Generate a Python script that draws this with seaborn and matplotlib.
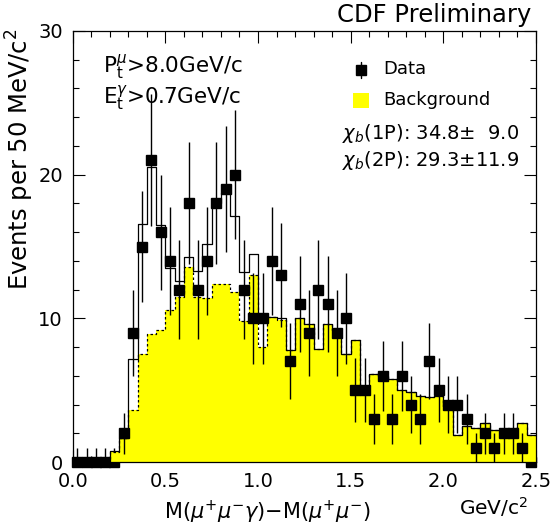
import numpy as np
import pandas as pd
import matplotlib.pyplot as plt
import matplotlib.patches as mpatches
from matplotlib.lines import Line2D
from matplotlib.ticker import MultipleLocator, FormatStrFormatter
import seaborn as sns

# 50 MeV/c^2 bins between 0 and 2.5 GeV/c^2
bin_edges = list(np.linspace(0.0, 2.5, 51))
bin_centers = [0.025 + 0.05 * i for i in range(50)]

# events per bin
data_counts = [0, 0, 0, 0, 0, 2, 9, 15, 21, 16,
               14, 12, 18, 12, 14, 18, 19, 20, 12, 10,
               10, 14, 13, 7, 11, 9, 12, 11, 9, 10,
               5, 5, 3, 6, 3, 6, 4, 3, 7, 5,
               4, 4, 3, 1, 2, 1, 2, 2, 1, 0]

# yellow background histogram
background = [0, 0, 0, 0, 0.7, 1.7, 3.6, 7.5, 8.9, 9.2,
              10.6, 11.5, 13.6, 11.5, 11.4, 12.4, 12.4, 11.8, 9.8, 13.0,
              8.0, 10.1, 9.9, 7.8, 10.0, 9.6, 7.9, 9.6, 9.2, 7.5,
              8.5, 4.8, 6.1, 6.0, 5.8, 5.0, 4.9, 4.6, 4.5, 4.6,
              3.9, 1.9, 2.5, 2.4, 2.7, 2.2, 2.15, 2.2, 2.7, 1.9]

# background + chi_b signal (solid outline)
fit_total = [0, 0, 0, 0, 0.8, 1.7, 7.2, 16.6, 20.5, 16.5,
             13.5, 12.6, 14.3, 13.3, 15.2, 18.0, 18.7, 17.1, 13.2, 14.5,
             10.2, 10.1, 10.0, 7.8, 10.0, 9.6, 7.9, 9.6, 9.2, 7.5,
             8.5, 4.8, 6.1, 6.0, 5.8, 5.0, 4.9, 4.6, 4.5, 4.6,
             3.9, 1.9, 2.5, 2.4, 2.7, 2.2, 2.15, 2.2, 2.7, 1.9]

x_ticks = [0.0, 0.5, 1.0, 1.5, 2.0, 2.5]
y_ticks = [0, 10, 20, 30]

chi1p_label = r"$\chi_b$(1P): 34.8$\pm$  9.0"
chi2p_label = r"$\chi_b$(2P): 29.3$\pm$11.9"

df = pd.DataFrame({"mass": bin_centers, "data": data_counts,
                   "bkg": background, "total": fit_total})

sns.set_style("ticks")
plt.rcParams["font.family"] = ["DejaVu Sans"]
plt.rcParams["text.color"] = "black"
plt.rcParams["axes.labelcolor"] = "black"
plt.rcParams["xtick.color"] = "black"
plt.rcParams["ytick.color"] = "black"
plt.rcParams["xtick.direction"] = "in"
plt.rcParams["ytick.direction"] = "in"

W, H = 554, 525
def fx(px):
    return px / W
def fy(py):
    return 1 - py / H

fig = plt.figure(figsize=(5.54, 5.25), dpi=100)
ax = fig.add_axes([fx(72.7), fy(462), (536 - 72.7) / W, (462 - 31) / H])

# zero bins go under the yellow fill (they sit on the axis)
n = df["data"].to_numpy(dtype=float)
xm = df["mass"].to_numpy()
err_lo = np.sqrt(n)
err_hi = np.where(n > 0, np.sqrt(n), 1.0)
zero = n == 0
ax.errorbar(xm[zero], n[zero], yerr=[err_lo[zero], err_hi[zero]],
            fmt="s", color="black", ms=7, elinewidth=1, capsize=0,
            clip_on=False, zorder=0.8)

sns.histplot(data=df, x="mass", weights="bkg", bins=bin_edges, element="step",
             fill=True, color="#ffff00", alpha=1, linewidth=0, ax=ax, zorder=1)
sns.histplot(data=df, x="mass", weights="total", bins=bin_edges, element="step",
             fill=False, color="black", linewidth=0.9, ax=ax, zorder=2)
sns.histplot(data=df, x="mass", weights="bkg", bins=bin_edges, element="step",
             fill=False, color="black", linewidth=0.9, linestyle=(0, (2, 2)),
             ax=ax, zorder=2.1)

ax.errorbar(xm[~zero], n[~zero], yerr=[err_lo[~zero], err_hi[~zero]],
            fmt="s", color="black", ms=7, elinewidth=1, capsize=0, zorder=3)

ax.set_xlim(0, 2.5)
ax.set_ylim(0, 30)
ax.set_xlabel("")
ax.set_ylabel("")
ax.set_xticks(x_ticks)
ax.set_yticks(y_ticks)
ax.xaxis.set_major_formatter(FormatStrFormatter("%.1f"))
ax.xaxis.set_minor_locator(MultipleLocator(0.1))
ax.yaxis.set_minor_locator(MultipleLocator(2))
ax.tick_params(which="both", top=True, right=True, width=0.8, colors="black",
               labelsize=14)
ax.tick_params(which="major", length=8.5)
ax.tick_params(which="minor", length=4)
ax.tick_params(axis="x", pad=7)
ax.tick_params(axis="y", pad=7)
for sp in ax.spines.values():
    sp.set_linewidth(0.9)
    sp.set_color("black")

# texts
fig.text(fx(531), fy(15), "CDF Preliminary", ha="right", va="center", fontsize=17.5)
fig.text(fx(103), fy(67), r"P$_{\rm t}^{\mu}$>8.0GeV/c", va="center", fontsize=15.5)
fig.text(fx(103), fy(98), r"E$_{\rm t}^{\gamma}$>0.7GeV/c", va="center", fontsize=15.5)
fig.text(fx(20), fy(28), r"Events per 50 MeV/c$^2$", rotation=90,
         ha="center", va="top", fontsize=17.5)
fig.text(fx(268), fy(512), r"M($\mu^{+}\mu^{-}\gamma$)−M($\mu^{+}\mu^{-}$)",
         ha="center", va="center", fontsize=15)
fig.text(fx(528), fy(507), r"GeV/c$^2$", ha="right", va="center", fontsize=14.5)

# hand-made legend
fig.add_artist(Line2D([fx(361), fx(361)], [fy(61.7), fy(78.3)], color="black", lw=1))
fig.add_artist(Line2D([fx(361)], [fy(69.5)], marker="s", ms=7, color="black", lw=0))
fig.text(fx(383), fy(69.5), "Data", va="center", fontsize=13)
fig.add_artist(mpatches.Rectangle((fx(353), fy(108)), 16 / W, 15 / H,
                                  transform=fig.transFigure,
                                  facecolor="#ffff00", edgecolor="none"))
fig.text(fx(383), fy(100), "Background", va="center", fontsize=13)
fig.text(fx(342), fy(133), chi1p_label, va="center", fontsize=14)
fig.text(fx(342), fy(161), chi2p_label, va="center", fontsize=14)

fig.savefig("out.png", dpi=100)
